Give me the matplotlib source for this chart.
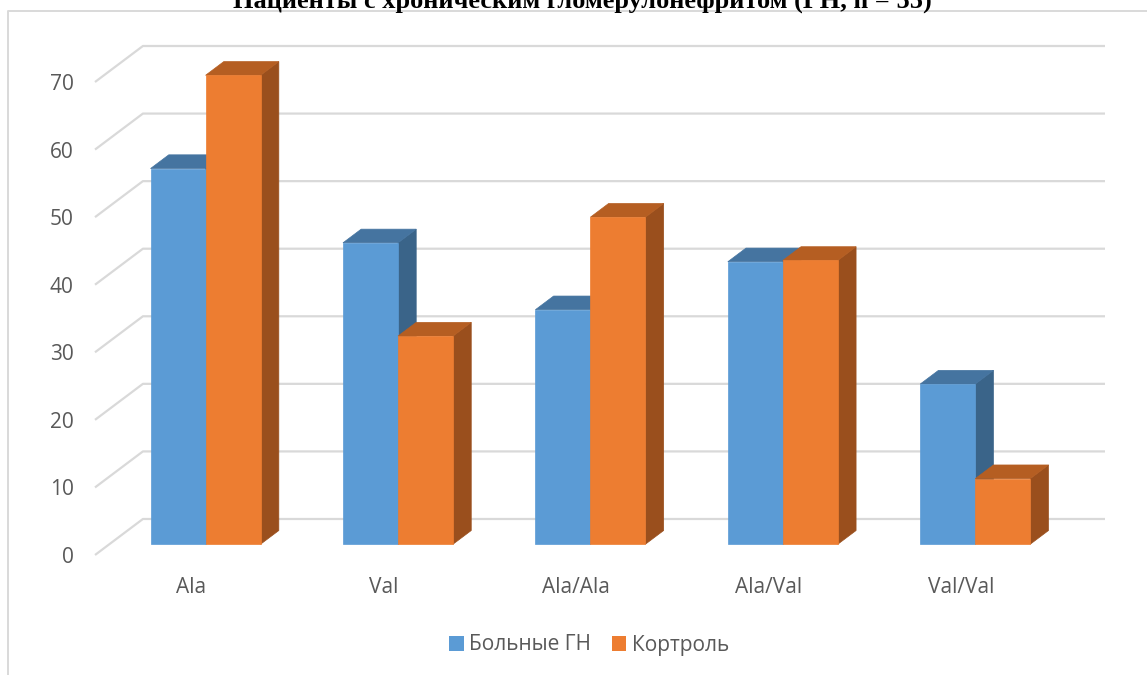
import matplotlib.pyplot as plt
from matplotlib.patches import Polygon, Patch
from matplotlib.lines import Line2D

# data (percent)
categories = ['Ala', 'Val', 'Ala/Ala', 'Ala/Val', 'Val/Val']
patients = [55.6, 44.6, 34.7, 41.8, 23.7]
control = [69.4, 30.8, 48.4, 42.0, 9.7]
series_names = ['Больные ГН', 'Кортроль']
yticks = [0, 10, 20, 30, 40, 50, 60, 70]
title = 'Пациенты с хроническим гломерулонефритом (ГН, n = 55)'

# colours: front, top, side
blue = ('#5b9bd5', '#4574a0', '#3a6489')
orange = ('#ed7d31', '#b55e22', '#9a4f1d')
grid_col = '#d9d9d9'
text_col = '#595959'

# oblique "3D" depth offset in data units (x in categories, y in values)
DX, DY = 0.249, 5.33
D0, D1 = 0.3, 0.68   # front / back depth of the bars
BAR_W = 0.286
XMAX = 5 + DX


def draw_bar(ax, x0, h, cols):
    fx, fy = x0 + D0 * DX, D0 * DY
    bx, by = (D1 - D0) * DX, (D1 - D0) * DY
    side = [(fx + BAR_W, fy), (fx + BAR_W, fy + h),
            (fx + BAR_W + bx, fy + h + by), (fx + BAR_W + bx, fy + by)]
    top = [(fx, fy + h), (fx + BAR_W, fy + h),
           (fx + BAR_W + bx, fy + h + by), (fx + bx, fy + h + by)]
    front = [(fx, fy), (fx + BAR_W, fy), (fx + BAR_W, fy + h), (fx, fy + h)]
    for pts, c in zip([side, top, front], [cols[2], cols[1], cols[0]]):
        ax.add_patch(Polygon(pts, closed=True, facecolor=c, edgecolor=c,
                             lw=0.5, zorder=3, clip_on=False))


fig = plt.figure(figsize=(11.47, 6.75), dpi=100)
ax = fig.add_axes([95 / 1147, 120 / 675, 1010 / 1147, 509 / 675])
ax.set_xlim(0, XMAX)
ax.set_ylim(0, 70 + DY)

# gridlines: diagonal on the floor/side, then along the back wall
for v in yticks:
    ax.plot([0, DX, XMAX], [v, v + DY, v + DY], color=grid_col, lw=1.6,
            zorder=1, solid_capstyle='butt', clip_on=False)

for i in range(len(categories)):
    draw_bar(ax, i + 0.5 - BAR_W, patients[i], blue)
    draw_bar(ax, i + 0.5, control[i], orange)

for s in ax.spines.values():
    s.set_visible(False)
ax.set_yticks(yticks)
ax.set_yticklabels([str(v) for v in yticks])
ax.set_xticks([i + 0.5 for i in range(len(categories))])
ax.set_xticklabels(categories)
ax.tick_params(axis='y', length=0, pad=15.5, labelsize=15, labelcolor=text_col)
ax.tick_params(axis='x', length=0, pad=16, labelsize=15, labelcolor=text_col)
for lab in ax.get_xticklabels() + ax.get_yticklabels():
    lab.set_fontfamily('Open Sans')

# chart border (left and top only are visible)
fig.add_artist(Line2D([8 / 1147, 8 / 1147, 1], [0, 1 - 11 / 675, 1 - 11 / 675],
                      transform=fig.transFigure, color=grid_col, lw=1.4))

# title is cropped at the top edge, as in the source picture
fig.text(582 / 1147, 1 - 8 / 675, title, ha='center', va='baseline',
         fontfamily='Liberation Serif', fontweight='bold', fontsize=19)

handles = [Patch(facecolor=blue[0], label=series_names[0]),
           Patch(facecolor=orange[0], label=series_names[1])]
leg = fig.legend(handles=handles, loc='center', ncol=2, frameon=False,
                 bbox_to_anchor=(589 / 1147, 1 - 645 / 675),
                 handlelength=0.7, handleheight=0.7, handletextpad=0.25,
                 columnspacing=1.0, prop={'family': 'Open Sans', 'size': 15})
for t in leg.get_texts():
    t.set_color(text_col)

fig.savefig('out.png', dpi=100)
